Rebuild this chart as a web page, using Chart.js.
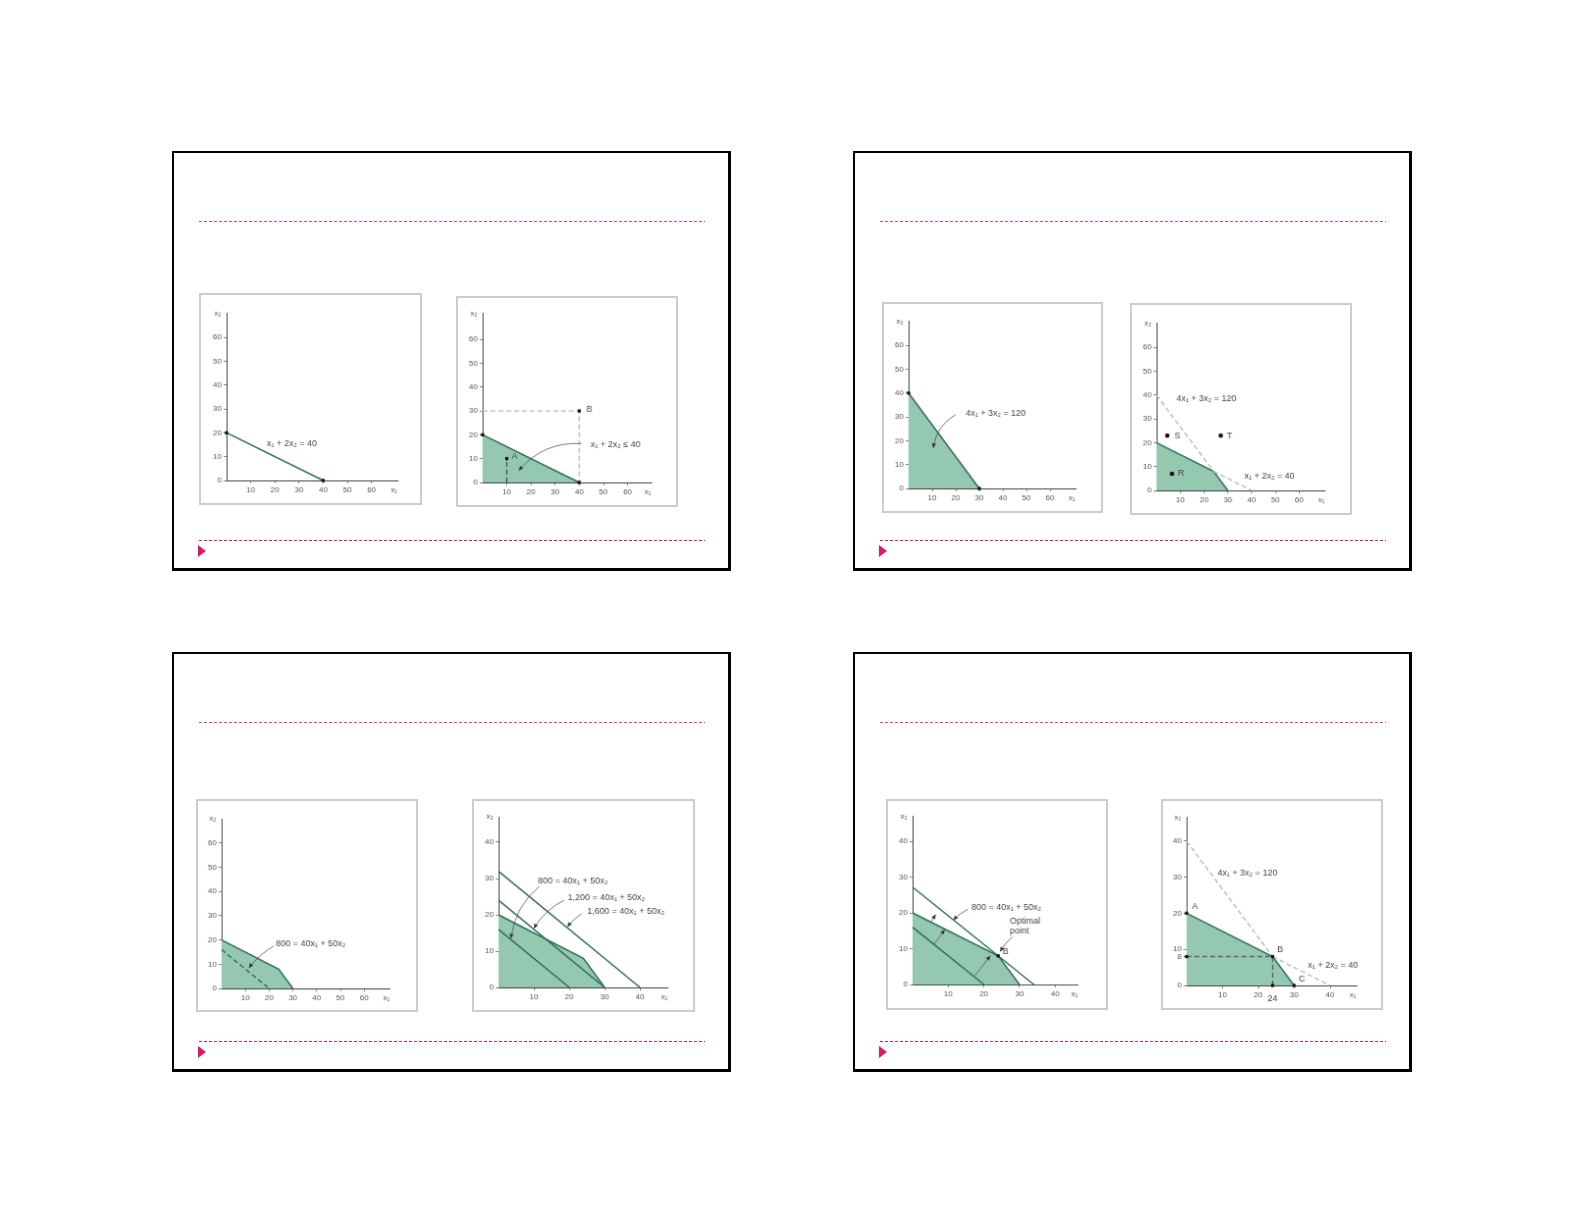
<!DOCTYPE html>
<html>
<head>
<meta charset="utf-8">
<title>Linear programming figures</title>
<script src="https://cdn.jsdelivr.net/npm/chart.js@4.4.1/dist/chart.umd.min.js"></script>
<style>
  html, body { margin: 0; padding: 0; background: #fff; }
  body { width: 1585px; height: 1225px; position: relative; overflow: hidden; }
  .slide { position: absolute; width: 559px; height: 420px; box-sizing: border-box;
           border: 2px solid #000; border-right-width: 3px; border-bottom-width: 3px; }
  .rule { position: absolute; width: 506px; height: 1px; }
  .rule.top { background: repeating-linear-gradient(to right, #ee3f80 0 3px, transparent 3px 5px); }
  .rule.bottom { background: repeating-linear-gradient(to right, #e0186a 0 3px, transparent 3px 5px); }
  .bullet { position: absolute; width: 0; height: 0; border-left: 8px solid #e0186a;
            border-top: 6px solid transparent; border-bottom: 6px solid transparent; }
  canvas.fig { position: absolute; border: 2px solid #cdcdcd; }
</style>
</head>
<body>
<script>
// ---- data ----
const xTicks60 = [10, 20, 30, 40, 50, 60];
const yTicks60 = [0, 10, 20, 30, 40, 50, 60];
const xTicks40 = [10, 20, 30, 40];
const yTicks40 = [0, 10, 20, 30, 40];
const yTicksCorner = [0, 8, 10, 20, 30, 40];

const lineA = [[0, 20], [40, 0]];          // x1 + 2x2 = 40
const lineB = [[0, 40], [30, 0]];          // 4x1 + 3x2 = 120
const feasible = [[0, 20], [24, 8], [30, 0]];
const lineBUpper = [[0, 40], [24, 8]];     // 4x1 + 3x2 = 120 above B
const lineABeyond = [[24, 8], [40, 0]];    // x1 + 2x2 = 40 beyond B
const profit800 = [[0, 16], [20, 0]];
const profit1200 = [[0, 24], [30, 0]];
const profit1600 = [[0, 32], [40, 0]];
const profit1360 = [[0, 27.2], [34, 0]];
const pointsAB = [[10, 10], [40, 30]];
const guideB = [[0, 30], [40, 30], [40, 0]];
const guideA = [[10, 0], [10, 10]];
const pointsRST = [[6.5, 7], [4.5, 23], [27, 23]];
const optimum = [[24, 8]];
const cornerPoints = [[0, 20], [24, 8], [30, 0], [0, 8], [24, 0]];
const guideCorner = [[0, 8], [24, 8], [24, 0]];

// ---- styles ----
const GREEN_DARK = '#2f6d58';
const GREEN_FILL = '#95c8b0';
const DASH_GRAY = '#b9b9b9';
const FONT = '"Liberation Sans", Arial, sans-serif';

const pts = arr => arr.map(([x, y]) => ({ x, y }));
const area = arr => ({ data: pts(arr), borderColor: GREEN_DARK, borderWidth: 1.5, backgroundColor: GREEN_FILL,
  fill: 'origin', pointRadius: 0, order: 3 });
const line = arr => ({ data: pts(arr), borderColor: GREEN_DARK, borderWidth: 1.5, fill: false, pointRadius: 0, order: 1 });
const dashed = (arr, color) => ({ data: pts(arr), borderColor: color || DASH_GRAY, borderWidth: 1.4,
  borderDash: [5, 3], fill: false, pointRadius: 0, order: 2 });
const dots = (arr, style) => ({ data: pts(arr), showLine: false, pointStyle: style || 'rect', pointRadius: 2.3,
  pointBackgroundColor: '#111', pointBorderWidth: 0, order: 0 });

// text and arrows drawn at data coordinates
const notesPlugin = {
  id: 'notes',
  afterDatasetsDraw(chart, args, opts) {
    const { ctx, scales: { x, y } } = chart;
    ctx.save();
    ctx.fillStyle = '#555';
    ctx.font = '8px ' + FONT;
    ctx.textBaseline = 'middle';
    ctx.textAlign = 'center';
    ctx.fillText('x\u2082', x.left - 9, y.top);
    ctx.fillText('x\u2081', x.right - 4, y.bottom + 10);

    ctx.strokeStyle = '#555';
    ctx.fillStyle = '#333';
    ctx.lineWidth = 0.8;
    (opts.arrows || []).forEach(([x1, y1, x2, y2, bend = 0]) => {
      const p1 = [x.getPixelForValue(x1), y.getPixelForValue(y1)];
      const p2 = [x.getPixelForValue(x2), y.getPixelForValue(y2)];
      const dx = p2[0] - p1[0], dy = p2[1] - p1[1];
      const cx = (p1[0] + p2[0]) / 2 - dy * bend;
      const cy = (p1[1] + p2[1]) / 2 + dx * bend;
      ctx.beginPath();
      ctx.moveTo(p1[0], p1[1]);
      ctx.quadraticCurveTo(cx, cy, p2[0], p2[1]);
      ctx.stroke();
      const ang = Math.atan2(p2[1] - cy, p2[0] - cx);
      ctx.beginPath();
      ctx.moveTo(p2[0], p2[1]);
      ctx.lineTo(p2[0] - 5 * Math.cos(ang - 0.45), p2[1] - 5 * Math.sin(ang - 0.45));
      ctx.lineTo(p2[0] - 5 * Math.cos(ang + 0.45), p2[1] - 5 * Math.sin(ang + 0.45));
      ctx.closePath();
      ctx.fill();
    });

    ctx.fillStyle = '#444';
    ctx.font = '9px ' + FONT;
    (opts.notes || []).forEach(([text, nx, ny, align]) => {
      ctx.textAlign = align || 'center';
      ctx.fillText(text, x.getPixelForValue(nx), y.getPixelForValue(ny));
    });
    ctx.restore();
  }
};

const figures = [
  { box: [199, 293, 426, 509], origin: [227, 484], ppx: 2.46, ppy: 2.43, xmax: 71, ymax: 70,
    xTicks: xTicks60, yTicks: yTicks60,
    datasets: [dots(lineA), line(lineA)],
    notes: [['x\u2081 + 2x\u2082 = 40', 27, 15.5]] },
  { box: [456, 296, 682, 511], origin: [483, 486], ppx: 2.46, ppy: 2.43, xmax: 70, ymax: 71,
    xTicks: xTicks60, yTicks: yTicks60,
    datasets: [dots(lineA), dots(pointsAB), dashed(guideB), dashed(guideA, '#555'), area(lineA)],
    notes: [['x\u2081 + 2x\u2082 \u2264 40', 55, 16], ['B', 43, 30.5, 'left'], ['A', 12, 11, 'left']],
    arrows: [[41, 16.3, 15, 5, 0.25]] },
  { box: [882, 302, 1107, 517], origin: [909, 492], ppx: 2.4, ppy: 2.43, xmax: 71, ymax: 70,
    xTicks: xTicks60, yTicks: yTicks60,
    datasets: [dots(lineB), area(lineB)],
    notes: [['4x\u2081 + 3x\u2082 = 120', 37, 31.5]],
    arrows: [[20, 31, 10.5, 17, 0.25]] },
  { box: [1130, 303, 1356, 519], origin: [1157, 494], ppx: 2.42, ppy: 2.43, xmax: 71, ymax: 70,
    xTicks: xTicks60, yTicks: yTicks60,
    datasets: [dots(pointsRST, 'circle'), dashed(lineBUpper), dashed(lineABeyond), area(feasible)],
    notes: [['4x\u2081 + 3x\u2082 = 120', 21, 38.5], ['x\u2081 + 2x\u2082 = 40', 47.5, 6],
            ['S', 7.5, 23, 'left'], ['T', 29.5, 23, 'left'], ['R', 9, 7, 'left']] },
  { box: [196, 799, 422, 1016], origin: [222, 992], ppx: 2.42, ppy: 2.47, xmax: 71, ymax: 70,
    xTicks: xTicks60, yTicks: yTicks60,
    datasets: [dashed(profit800, GREEN_DARK), area(feasible)],
    notes: [['800 = 40x\u2081 + 50x\u2082', 37.5, 18.5]],
    arrows: [[22, 17.5, 11.5, 8.5, 0.1]] },
  { box: [472, 799, 699, 1016], origin: [499, 991], ppx: 3.6, ppy: 3.7, xmax: 48, ymax: 47,
    xTicks: xTicks40, yTicks: yTicks40,
    datasets: [line(profit800), line(profit1200), line(profit1600), area(feasible)],
    notes: [['800 = 40x\u2081 + 50x\u2082', 21, 29.2], ['1,200 = 40x\u2081 + 50x\u2082', 30.5, 24.6],
            ['1,600 = 40x\u2081 + 50x\u2082', 36, 21]],
    arrows: [[11.5, 27.8, 3.5, 13.5, 0.2], [18.5, 24, 10, 16.3, 0.15], [23.5, 20.3, 19.5, 16.7, 0.1]] },
  { box: [886, 799, 1112, 1014], origin: [913, 988], ppx: 3.63, ppy: 3.65, xmax: 46.5, ymax: 47,
    xTicks: xTicks40, yTicks: yTicks40,
    datasets: [dots(optimum), line(profit800), line(profit1360), area(feasible)],
    notes: [['800 = 40x\u2081 + 50x\u2082', 26.3, 21.6], ['Optimal', 27.3, 17.8, 'left'],
            ['point', 27.3, 14.9, 'left'], ['B', 25.3, 9.3, 'left']],
    arrows: [[15.5, 21, 11.5, 18, 0.1], [28, 13.3, 24.6, 9.2, 0.1], [6, 11.2, 9, 15.3],
             [5, 17.3, 6.5, 19.5], [17.5, 2.5, 21.8, 8]] },
  { box: [1161, 799, 1387, 1014], origin: [1187, 989], ppx: 3.65, ppy: 3.68, xmax: 47.5, ymax: 46.5,
    xTicks: xTicks40, yTicks: yTicksCorner,
    datasets: [dots(cornerPoints), dashed(guideCorner, '#666'), dashed(lineBUpper), dashed(lineABeyond),
               area(feasible)],
    notes: [['4x\u2081 + 3x\u2082 = 120', 17, 31], ['x\u2081 + 2x\u2082 = 40', 40.8, 5.7],
            ['A', 1.5, 22, 'left'], ['B', 25.3, 10, 'left'], ['C', 31.3, 1.8, 'left'], ['24', 24, -3.6]] }
];

// ---- slide frames ----
const slideOrigins = [[172, 151], [853, 151], [172, 652], [853, 652]];
slideOrigins.forEach(([sx, sy]) => {
  const add = (cls, x, y) => {
    const el = document.createElement('div');
    el.className = cls;
    el.style.left = x + 'px';
    el.style.top = y + 'px';
    document.body.appendChild(el);
  };
  add('slide', sx, sy);
  add('rule top', sx + 27, sy + 70);
  add('rule bottom', sx + 27, sy + 389);
  add('bullet', sx + 26, sy + 394);
});

// ---- charts ----
function makeFigure(fig) {
  const [L, T, R, B] = fig.box;
  const W = R - L - 4, H = B - T - 4;
  const canvas = document.createElement('canvas');
  canvas.className = 'fig';
  canvas.width = W;
  canvas.height = H;
  canvas.style.left = L + 'px';
  canvas.style.top = T + 'px';
  canvas.style.width = W + 'px';
  canvas.style.height = H + 'px';
  document.body.appendChild(canvas);

  const left = fig.origin[0] - L - 2;
  const bottom = fig.origin[1] - T - 2;
  const top = bottom - fig.ymax * fig.ppy;
  const right = left + fig.xmax * fig.ppx;

  const axis = (min, max, ticks, fit) => ({
    type: 'linear', min, max,
    afterBuildTicks: s => { s.ticks = ticks.map(v => ({ value: v })); },
    afterFit: fit,
    grid: { display: true, drawOnChartArea: false, drawTicks: true, tickLength: 3, color: '#666', lineWidth: 0.8 },
    border: { display: true, color: '#444', width: 1 },
    ticks: { color: '#555', font: { size: 8, family: FONT }, padding: 2, autoSkip: false, maxRotation: 0 }
  });

  new Chart(canvas, {
    type: 'line',
    data: { datasets: fig.datasets.map(d => Object.assign({ clip: false, tension: 0 }, d)) },
    options: {
      responsive: false,
      animation: false,
      devicePixelRatio: 1,
      events: [],
      layout: { padding: { top: top, right: W - right, left: 0, bottom: 0 } },
      plugins: {
        legend: { display: false },
        tooltip: { enabled: false },
        notes: { notes: fig.notes || [], arrows: fig.arrows || [] }
      },
      scales: {
        x: axis(0, fig.xmax, fig.xTicks, s => { s.height = H - bottom; }),
        y: axis(0, fig.ymax, fig.yTicks, s => { s.width = left; })
      }
    },
    plugins: [notesPlugin]
  });
}

figures.forEach(makeFigure);
</script>
</body>
</html>
